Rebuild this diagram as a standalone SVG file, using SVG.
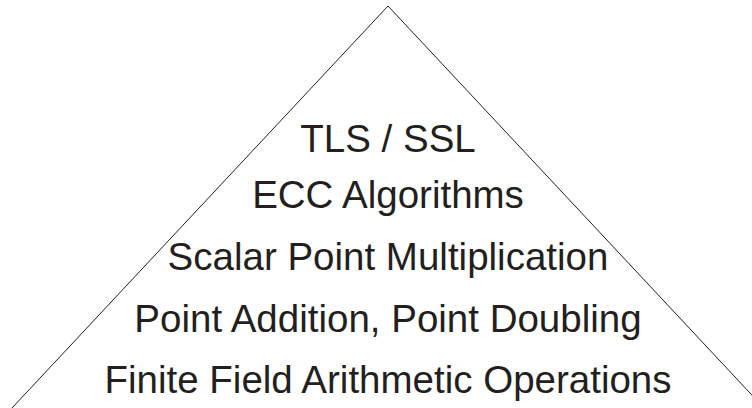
<svg xmlns="http://www.w3.org/2000/svg" width="752" height="408" viewBox="0 0 752 408">
  <style>
    .edge { fill: none; stroke: #231f20; stroke-width: 1; }
    .layer { font-family: "Liberation Sans", Arial, sans-serif; font-size: 38.5px; fill: #231f20; text-anchor: middle; }
  </style>
  <rect width="752" height="408" fill="#ffffff"/>
  <!-- pyramid outline -->
  <polyline class="edge" points="12,408 388,6 764,408"/>
  <!-- protocol stack, top to bottom -->
  <g id="layers">
    <text class="layer" x="388" y="152">TLS / SSL</text>
    <text class="layer" x="388" y="208">ECC Algorithms</text>
    <text class="layer" x="388" y="270">Scalar Point Multiplication</text>
    <text class="layer" x="388" y="332">Point Addition, Point Doubling</text>
    <text class="layer" x="388" y="393">Finite Field Arithmetic Operations</text>
  </g>
</svg>
